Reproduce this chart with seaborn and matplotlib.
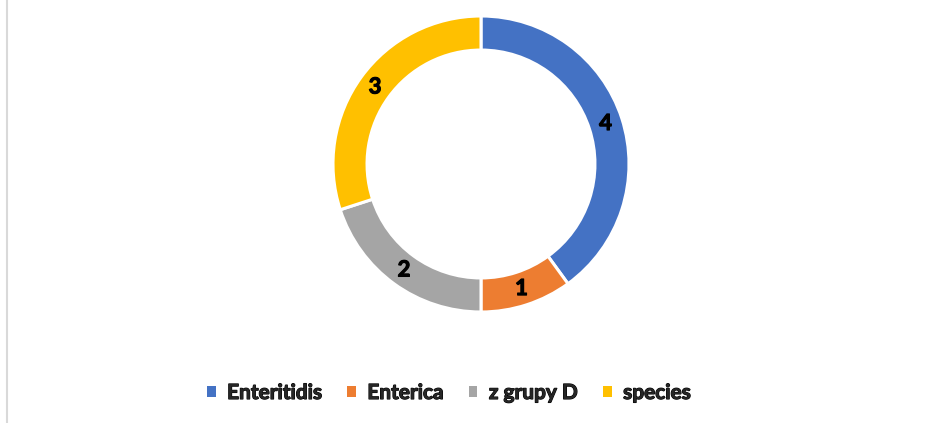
import matplotlib
matplotlib.use("Agg")
import matplotlib.pyplot as plt
import matplotlib.patheffects as pe
import seaborn as sns
from matplotlib.patches import Patch
from matplotlib.lines import Line2D

categories = ["Enteritidis", "Enterica", "z grupy D", "species"]
counts = [4, 1, 2, 3]
colors = ["#4472C4", "#ED7D31", "#A5A5A5", "#FFC000"]

sns.set_theme(style="white")
plt.rcParams['font.family'] = ['Lato', 'DejaVu Sans']

W, H = 942, 423
fig = plt.figure(figsize=(W / 100, H / 100), dpi=100)
fig.patch.set_facecolor("white")

# slightly heavier strokes to get closer to the Calibri bold look
heavy = [pe.withStroke(linewidth=0.8, foreground="black")]

# donut centre ~ (481, 164) px, outer radius ~148 px
cx, cy, r = 481, 164, 148
ax = fig.add_axes([(cx - r) / W, (H - cy - r) / H, 2 * r / W, 2 * r / H])

total = sum(counts)
wedges, texts, autotexts = ax.pie(
    counts,
    colors=colors,
    startangle=90,
    counterclock=False,
    radius=1,
    autopct=lambda p: f"{round(p * total / 100)}",
    pctdistance=0.885,
    wedgeprops=dict(width=0.23, edgecolor="white", linewidth=2.2),
    textprops=dict(fontsize=16, fontweight="bold", color="black"),
)
for t in autotexts:
    t.set_path_effects(heavy)
ax.set_xlim(-1, 1)
ax.set_ylim(-1, 1)
ax.axis("off")

handles = [Patch(facecolor=c, edgecolor="none", label=l) for c, l in zip(colors, categories)]
leg = fig.legend(
    handles=handles,
    loc="center",
    bbox_to_anchor=(449 / W, 1 - 393 / H),
    ncol=4,
    frameon=False,
    prop=dict(size=15, weight="bold"),
    handlelength=0.42,
    handleheight=0.42,
    handletextpad=0.55,
    columnspacing=1.2,
)
for t in leg.get_texts():
    t.set_path_effects(heavy)

# thin grey border on the left side
fig.add_artist(Line2D([6.5 / W, 6.5 / W], [0, 1], color="#D9D9D9", linewidth=1.5,
                      transform=fig.transFigure))

fig.savefig("out.png", dpi=100, facecolor="white")
